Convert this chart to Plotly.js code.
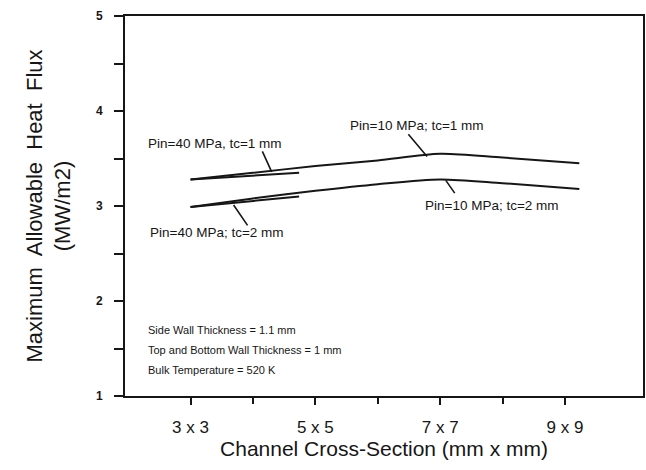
<!DOCTYPE html>
<html>
<head>
<meta charset="utf-8">
<script src="https://cdn.plot.ly/plotly-3.0.1.min.js"></script>
<style>html,body{margin:0;padding:0;background:#fff;}#chart{width:646px;height:470px;}</style>
</head>
<body>
<div id="chart"></div>
<script>
// Channel cross-section (side length, mm)
const xTickVals = [3, 5, 7, 9];
const xTickText = ['3 x 3', '5 x 5', '7 x 7', '9 x 9'];
const yTickVals = [1, 1.5, 2, 2.5, 3, 3.5, 4, 4.5, 5];
const yTickText = ['1', '', '2', '', '3', '', '4', '', '5'];

// Pin = 10 MPa, tc = 1 mm
const x10tc1 = [3, 4, 5, 6, 7, 8, 9.23];
const y10tc1 = [3.28, 3.35, 3.42, 3.48, 3.55, 3.51, 3.45];
// Pin = 40 MPa, tc = 1 mm
const x40tc1 = [3, 4.74];
const y40tc1 = [3.28, 3.35];
// Pin = 10 MPa, tc = 2 mm
const x10tc2 = [3, 4, 5, 6, 7, 8, 9.23];
const y10tc2 = [2.99, 3.08, 3.16, 3.23, 3.28, 3.24, 3.18];
// Pin = 40 MPa, tc = 2 mm
const x40tc2 = [3, 4.74];
const y40tc2 = [2.99, 3.10];

const curveLabels = ['Pin=40 MPa, tc=1 mm', 'Pin=10 MPa; tc=1 mm', 'Pin=40 MPa; tc=2 mm', 'Pin=10 MPa; tc=2 mm'];
const labelX = [3.40, 6.63, 3.43, 7.83];
const labelY = [3.66, 3.85, 2.72, 3.01];
const leaderFromX = [4.14, 6.47, 3.93, 7.25];
const leaderFromY = [3.59, 3.77, 2.78, 3.12];
const leaderToX = [4.30, 6.79, 3.69, 7.09];
const leaderToY = [3.36, 3.52, 3.01, 3.27];

const notes = ['Side Wall Thickness = 1.1 mm', 'Top and Bottom Wall Thickness = 1 mm', 'Bulk Temperature = 520 K'];
const noteY = [1.70, 1.48, 1.27];

const ink = '#161616';
const lineStyle = {color: ink, width: 2, shape: 'spline', smoothing: 0.8};

const traces = [
  {x: x10tc1, y: y10tc1, mode: 'lines', line: lineStyle, name: curveLabels[1]},
  {x: x40tc1, y: y40tc1, mode: 'lines', line: {color: ink, width: 2}, name: curveLabels[0]},
  {x: x10tc2, y: y10tc2, mode: 'lines', line: lineStyle, name: curveLabels[3]},
  {x: x40tc2, y: y40tc2, mode: 'lines', line: {color: ink, width: 2}, name: curveLabels[2]}
];

const annotations = [];
for (let i = 0; i < curveLabels.length; i++) {
  annotations.push({x: labelX[i], y: labelY[i], xref: 'x', yref: 'y', text: curveLabels[i],
    showarrow: false, font: {family: 'Liberation Sans, Arial, sans-serif', size: 13.5, color: ink}});
  annotations.push({x: leaderToX[i], y: leaderToY[i], ax: leaderFromX[i], ay: leaderFromY[i],
    xref: 'x', yref: 'y', axref: 'x', ayref: 'y', text: '', showarrow: true,
    arrowhead: 0, arrowwidth: 1.6, arrowcolor: ink, standoff: 0, startstandoff: 0});
}
for (let i = 0; i < notes.length; i++) {
  annotations.push({x: 2.29, y: noteY[i], xref: 'x', yref: 'y', xanchor: 'left', text: notes[i],
    showarrow: false, font: {family: 'Liberation Sans, Arial, sans-serif', size: 11, color: ink}});
}

const layout = {
  width: 646, height: 470, autosize: false,
  margin: {l: 125, r: 3, t: 16, b: 74, pad: 0},
  paper_bgcolor: '#ffffff', plot_bgcolor: '#ffffff',
  showlegend: false,
  font: {family: 'Liberation Sans, Arial, sans-serif', color: ink},
  xaxis: {
    range: [1.95, 10.25], tickmode: 'array', tickvals: xTickVals, ticktext: xTickText,
    ticks: 'outside', ticklen: 7, tickwidth: 2, tickcolor: ink,
    minor: {tickmode: 'array', tickvals: [4, 6, 8], ticks: 'outside', ticklen: 6, tickwidth: 2, tickcolor: ink},
    showline: true, linecolor: ink, linewidth: 2, mirror: true,
    showgrid: false, zeroline: false,
    tickfont: {size: 17, color: ink}, ticklabelstandoff: 8,
    title: {text: 'Channel Cross-Section (mm x mm)', font: {size: 21, color: ink}, standoff: 0}
  },
  yaxis: {
    range: [1, 5], tickmode: 'array', tickvals: yTickVals, ticktext: yTickText,
    ticks: 'outside', ticklen: 9, tickwidth: 2, tickcolor: ink,
    showline: true, linecolor: ink, linewidth: 2, mirror: true,
    showgrid: false, zeroline: false,
    tickfont: {size: 12, color: ink, weight: 'bold'}, ticklabelstandoff: 9,
    title: {text: 'Maximum  Allowable  Heat  Flux<br>(MW/m2)', font: {size: 22, color: ink}, standoff: 19}
  },
  annotations: annotations
};

Plotly.newPlot('chart', traces, layout, {staticPlot: true, displayModeBar: false});
</script>
</body>
</html>
